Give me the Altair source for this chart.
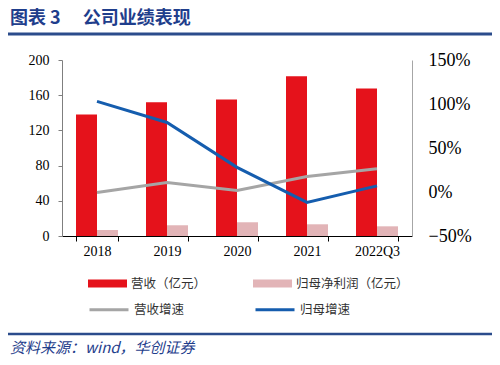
import altair as alt
import pandas as pd

years = ['2018', '2019', '2020', '2021', '2022Q3']
revenue = [138.0, 152.0, 155.0, 181.5, 167.5]
net_profit = [6.8, 12.2, 15.6, 13.3, 11.0]
revenue_growth = [-0.005, 0.109, 0.018, 0.177, 0.265]
profit_growth = [1.03, 0.79, 0.28, -0.118, 0.07]

bar_series = ['营收（亿元）', '归母净利润（亿元）']
line_series = ['营收增速', '归母增速']
bar_colors = ['#E5121B', '#E2B4B7']
line_colors = ['#A5A5A5', '#155DAE']

left_ticks = [0, 40, 80, 120, 160, 200]
right_ticks = [-0.5, 0, 0.5, 1.0, 1.5]

title_text = ['图表 3 　公司业绩表现']
source_text = ['资料来源：wind，华创证券']

bar_df = pd.DataFrame({
    'year': years * 2,
    'series': [bar_series[0]] * len(years) + [bar_series[1]] * len(years),
    'value': revenue + net_profit,
})
line_df = pd.DataFrame({
    'year': years * 2,
    'series': [line_series[0]] * len(years) + [line_series[1]] * len(years),
    'growth': revenue_growth + profit_growth,
})

x_enc = alt.X('year:N', sort=years,
              scale=alt.Scale(paddingInner=0.4, paddingOuter=0.2),
              axis=alt.Axis(title=None, labelAngle=0, tickBand='extent',
                            domainColor='black', tickColor='black', tickSize=5,
                            labelPadding=3, labelFont='Liberation Serif',
                            labelFontSize=14, labelColor='black'))

bars = alt.Chart(bar_df).mark_bar().encode(
    x=x_enc,
    xOffset=alt.XOffset('series:N', sort=bar_series,
                        scale=alt.Scale(domain=bar_series, paddingInner=0, paddingOuter=0)),
    y=alt.Y('value:Q', scale=alt.Scale(domain=[0, 200], nice=False),
            axis=alt.Axis(title=None, values=left_ticks, grid=False,
                          domainColor='#7F7F7F', tickColor='#7F7F7F', tickSize=4,
                          labelPadding=9, labelFont='Liberation Serif',
                          labelFontSize=14, labelColor='black')),
    fill=alt.Fill('series:N', sort=bar_series,
                  scale=alt.Scale(domain=bar_series, range=bar_colors),
                  legend=alt.Legend(title=None, orient='none', legendX=26, legendY=204,
                                    direction='horizontal', columns=2, columnPadding=46,
                                    symbolType='M-1,-0.2H1V0.2H-1Z', symbolSize=1521,
                                    symbolStrokeWidth=0, labelFont='Noto Sans CJK SC',
                                    labelFontSize=12.5, labelColor='#333333',
                                    labelOffset=4, padding=0)),
)

lines = alt.Chart(line_df).mark_line(strokeWidth=3).encode(
    x=alt.X('year:N', sort=years),
    y=alt.Y('growth:Q', scale=alt.Scale(domain=[-0.5, 1.5], nice=False),
            axis=alt.Axis(title=None, orient='right', format='.0%', values=right_ticks,
                          grid=False, ticks=False, domainColor='#A6A6A6',
                          labelPadding=16, labelFont='Liberation Serif',
                          labelFontSize=18, labelColor='black')),
    stroke=alt.Stroke('series:N', sort=line_series,
                      scale=alt.Scale(domain=line_series, range=line_colors),
                      legend=alt.Legend(title=None, orient='none', legendX=26, legendY=228.5,
                                        direction='horizontal', columns=2, columnPadding=64,
                                        symbolType='stroke', symbolSize=1521,
                                        symbolStrokeWidth=3, labelFont='Noto Sans CJK SC',
                                        labelFontSize=12.5, labelColor='#333333',
                                        labelOffset=4, padding=0)),
)

dummy = pd.DataFrame({'k': [0]})

title_layer = alt.Chart(pd.DataFrame({'t': title_text})).mark_text(
    align='left', baseline='middle', font='Noto Sans CJK SC', fontSize=18,
    fontWeight='bold', color='#1F3E8C'
).encode(x=alt.value(-52), y=alt.value(-41), text='t:N')

top_rule = alt.Chart(dummy).mark_rule(color='#2B4C8C', strokeWidth=3).encode(
    x=alt.value(-54), x2=alt.value(430), y=alt.value(-26))

bottom_rule = alt.Chart(dummy).mark_rule(color='#2B4C8C', strokeWidth=2.5).encode(
    x=alt.value(-54), x2=alt.value(430), y=alt.value(274))

source_layer = alt.Chart(pd.DataFrame({'t': source_text})).mark_text(
    align='left', baseline='middle', font='Noto Sans CJK SC', fontSize=15,
    fontStyle='italic', color='#1F3E8C'
).encode(x=alt.value(-52), y=alt.value(288), text='t:N')

chart = alt.layer(bars, lines, title_layer, top_rule, bottom_rule, source_layer).resolve_scale(
    y='independent'
).properties(
    width=350, height=176,
    autosize=alt.AutoSizeParams(type='none'),
    padding={'left': 54, 'top': 52, 'right': 80, 'bottom': 121},
).configure_view(stroke=None)

chart.save("out.html", embed_options={"renderer": "svg", "actions": False})
